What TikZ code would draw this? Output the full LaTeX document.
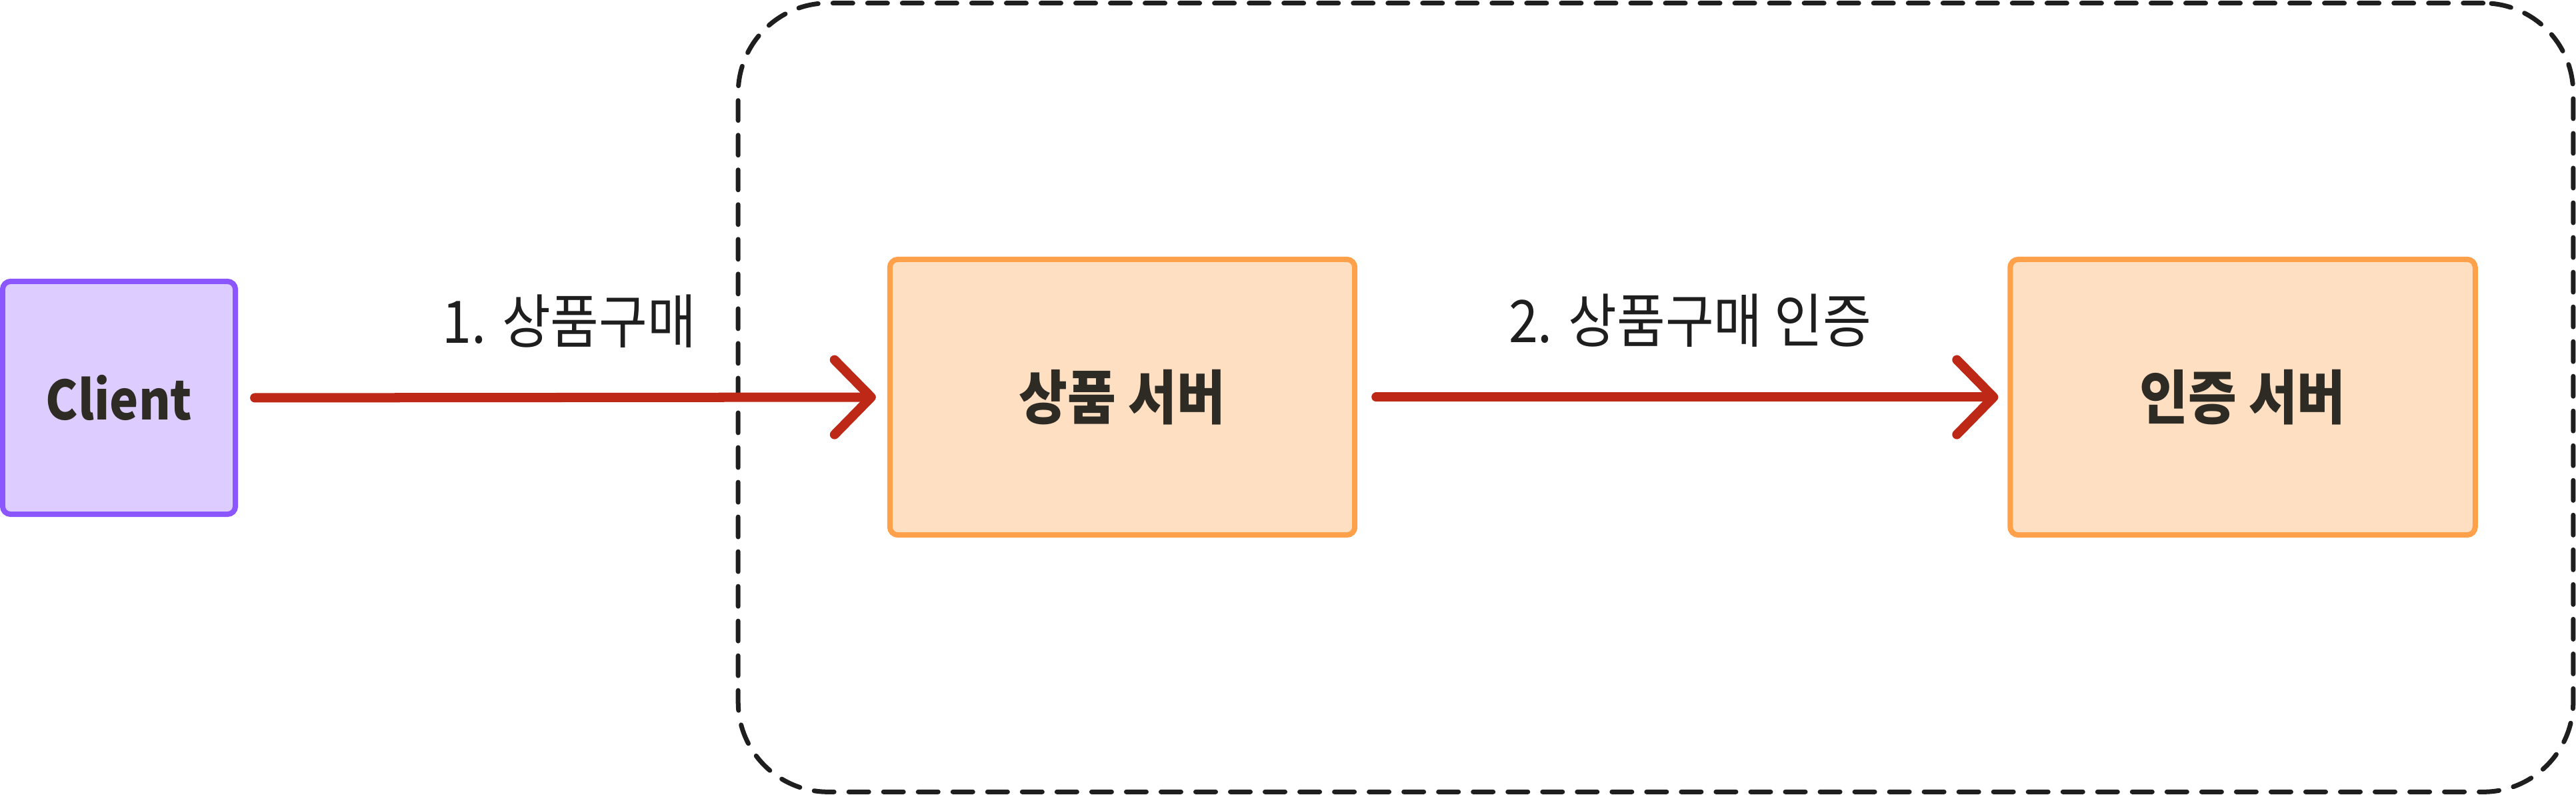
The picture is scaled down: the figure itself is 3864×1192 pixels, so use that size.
\documentclass[tikz,border=0pt]{standalone}
\usepackage{fontspec}
\setmainfont{Noto Sans CJK KR}[FakeStretch=0.9]
\newfontfamily\lblfont{Noto Sans CJK KR}[FakeStretch=0.9]
\newfontfamily\boxfont{Noto Sans CJK KR}[FakeStretch=0.9]
\usetikzlibrary{arrows.meta}
\definecolor{purpleline}{HTML}{8B55FF}
\definecolor{purplefill}{HTML}{DDCCFF}
\definecolor{orangeline}{HTML}{FFA04A}
\definecolor{orangefill}{HTML}{FFDFC2}
\definecolor{arrowred}{HTML}{BE2817}
\definecolor{inktext}{HTML}{2E2A24}
\definecolor{lbltext}{HTML}{1E1E1E}
\tikzset{
  clientbox/.style={draw=purpleline, fill=purplefill, line width=0.08cm, rounded corners=0.12cm,
    minimum width=3.49cm, minimum height=3.49cm, inner sep=0pt,
    font=\fontsize{23}{27}\selectfont\bfseries, text=inktext},
  serverbox/.style={draw=orangeline, fill=orangefill, line width=0.08cm, rounded corners=0.12cm,
    minimum width=6.97cm, minimum height=4.13cm, inner sep=0pt,
    font=\boxfont\fontsize{25}{29}\selectfont\bfseries, text=inktext},
  groupbox/.style={draw=lbltext, line width=0.07cm, dash pattern=on 0.30cm off 0.22cm,
    line cap=round, rounded corners=1.35cm, minimum width=27.51cm, minimum height=11.82cm, inner sep=0pt},
  flowarrow/.style={draw=arrowred, line width=0.14cm, line cap=round,
    -{Straight Barb[length=0.55cm,width=1.12cm,round]}},
  flowlabel/.style={font=\lblfont\fontsize{25}{29}\selectfont, text=lbltext, inner sep=0pt}
}
\begin{document}
\begin{tikzpicture}[x=0.01cm,y=-0.01cm]
\useasboundingbox (0,0) rectangle (3864,1192);
\node[groupbox] (grp) at (2483.5,596) {};
\node[clientbox] (client) at (178.5,596.5) {Client};
\node[serverbox] (prod) at (1683.5,595.5) {상품 서버};
\node[serverbox] (auth) at (3364,595.5) {인증 서버};
\draw[flowarrow, shorten <=0.25cm, shorten >=0.17cm] (client.east) -- (prod.west);
\draw[flowarrow, shorten <=0.28cm, shorten >=0.14cm] (prod.east) -- (auth.west);
\node[flowlabel] (l1) at (854,482) {1. 상품구매};
\node[flowlabel] (l2) at (2535,481) {2. 상품구매 인증};
\end{tikzpicture}
\end{document}
